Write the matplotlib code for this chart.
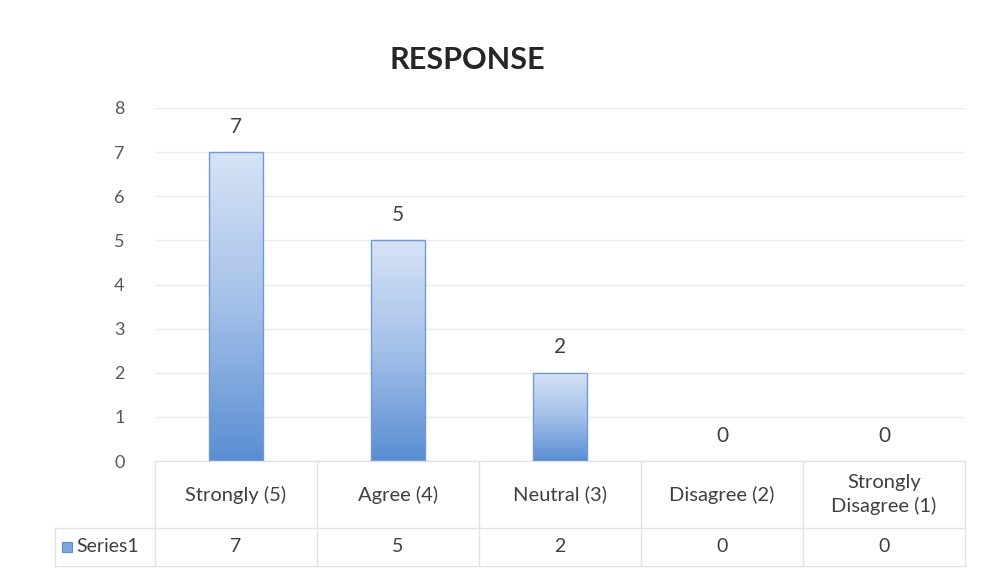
import numpy as np
import matplotlib
matplotlib.use("Agg")
import matplotlib.pyplot as plt
from matplotlib.colors import LinearSegmentedColormap

CATEGORIES = ["Strongly (5)", "Agree (4)", "Neutral (3)", "Disagree (2)", "Strongly\nDisagree (1)"]
VALUES = [7, 5, 2, 0, 0]
SERIES_NAME = "Series1"
TITLE = "RESPONSE"
Y_TICKS = [0, 1, 2, 3, 4, 5, 6, 7, 8]

plt.rcParams["font.family"] = ["Lato", "DejaVu Sans"]
GRID = "#ebebeb"
TABLE = "#e3e3e3"
TEXT = "#404040"

fig = plt.figure(figsize=(9.88, 5.70), dpi=100)
W, H = 988, 570
left, right, bottom, top = 155, 965, 461, 108
ax = fig.add_axes([left / W, 1 - bottom / H, (right - left) / W, (bottom - top) / H])

x = np.arange(len(CATEGORIES))
edges = ["#6f9ad6" if v > 0 else "none" for v in VALUES]
bars = ax.bar(x, VALUES, width=0.33, color="none", edgecolor=edges, linewidth=1.0, zorder=3)

# vertical gradient fill, clipped to each bar
cmap = LinearSegmentedColormap.from_list("bluegrad", ["#5a8ed2", "#a3c0e9", "#d6e3f5"])
grad = np.linspace(0, 1, 256).reshape(-1, 1)
for b in bars:
    if b.get_height() <= 0:
        continue
    x0, y0 = b.get_x(), b.get_y()
    im = ax.imshow(grad, cmap=cmap, aspect="auto", origin="lower",
                   extent=[x0, x0 + b.get_width(), y0, y0 + b.get_height()], zorder=2)
    im.set_clip_path(b)

for xi, v in zip(x, VALUES):
    ax.text(xi, v + 0.35, str(v), ha="center", va="bottom", fontsize=15, color=TEXT)

ax.set_xlim(-0.5, len(CATEGORIES) - 0.5)
ax.set_ylim(0, 8)
ax.set_yticks(Y_TICKS)
ax.set_yticklabels([str(t) for t in Y_TICKS], fontsize=13, color="#595959")
ax.tick_params(axis="y", length=0, pad=22)
ax.set_xticks([])
ax.grid(axis="y", color=GRID, linewidth=1.0, zorder=0)
for s in ax.spines.values():
    s.set_visible(False)

fig.text(467 / W, 1 - 60 / H, TITLE, ha="center", va="center", fontsize=22,
         fontweight="bold", color="#262626")

# data table below the axis
ah = bottom - top
r1 = -(528 - bottom) / ah
r2 = -(566 - bottom) / ah
lab_x = (55 - left) / (right - left)
tr = ax.get_xaxis_transform()
lk = dict(color=TABLE, linewidth=1.0, clip_on=False)
ax.plot([-0.5, len(CATEGORIES) - 0.5], [0, 0], transform=tr, **lk)
ax.plot([lab_x, 1], [r1, r1], transform=ax.transAxes, **lk)
ax.plot([lab_x, 1], [r2, r2], transform=ax.transAxes, **lk)
for xb in np.arange(len(CATEGORIES) + 1) - 0.5:
    ax.plot([xb, xb], [0, r2], transform=tr, **lk)
ax.plot([lab_x, lab_x], [r1, r2], transform=ax.transAxes, **lk)

for xi, c, v in zip(x, CATEGORIES, VALUES):
    ax.text(xi, r1 / 2, c, transform=tr, ha="center", va="center", fontsize=14.5,
            color=TEXT, linespacing=1.35)
    ax.text(xi, (r1 + r2) / 2, str(v), transform=tr, ha="center", va="center",
            fontsize=14, color=TEXT)

# legend key + series name
key_x = (62 - left) / (right - left)
key_w = 10 / (right - left)
key_h = 10 / ah
ax.add_patch(plt.Rectangle((key_x, (r1 + r2) / 2 - key_h / 2), key_w, key_h,
                           transform=ax.transAxes, facecolor="#7fa6dc",
                           edgecolor="#5a8ed2", linewidth=0.8, clip_on=False))
ax.text(key_x + key_w + 4 / (right - left), (r1 + r2) / 2, SERIES_NAME,
        transform=ax.transAxes, ha="left", va="center", fontsize=14, color=TEXT)

fig.savefig("out.png", dpi=100)
